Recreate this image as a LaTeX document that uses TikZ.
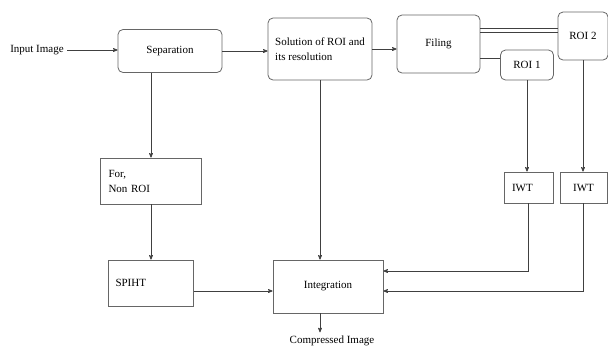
\documentclass[tikz,border=0pt]{standalone}
\usepackage{fontspec}
\setmainfont{Liberation Serif}
\usetikzlibrary{arrows}

\begin{document}
\begin{tikzpicture}[x=1pt,y=-1pt,->,>=stealth',line width=0.7pt,draw=black!75,
  font=\fontsize{11}{15}\selectfont,
  round box/.style={rectangle,rounded corners=5pt,draw=black!60,line width=0.8pt},
  plain box/.style={rectangle,draw=black!60,line width=0.8pt,align=left}]
  \useasboundingbox (0,0) rectangle (608,349);

  \node (input) at (37,50) {Input Image};
  \node[round box,minimum width=104pt,minimum height=43pt] (sep) at (170,51) {Separation};
  \node[round box,minimum width=104pt,minimum height=62pt,align=left] (sol) at (320,49) {Solution of ROI and\\its resolution};
  \node[round box,minimum width=83pt,minimum height=58pt] (fil) at (438.5,44) {Filing};
  \node[round box,minimum width=50pt,minimum height=48pt] (roitwo) at (583,36) {ROI 2};
  \node[round box,minimum width=53pt,minimum height=30pt] (roione) at (527,65) {ROI 1};

  \node[plain box,minimum height=46pt,text width=85pt,inner xsep=8pt] (nonroi) at (151,181) {For,\\Non ROI};
  \node[plain box,minimum height=46pt,text width=71pt,inner xsep=7pt] (spiht) at (151,283) {\raisebox{-4pt}{SPIHT}};
  \node[plain box,minimum width=110pt,minimum height=53pt] (integ) at (328,286.5) {Integration};
  \node[plain box,minimum height=31pt,text width=33pt,inner xsep=8pt] (iwtone) at (528.5,187.5) {IWT};
  \node[plain box,minimum width=47pt,minimum height=31pt] (iwttwo) at (583.5,187.5) {IWT};
  \node (comp) at (332,341) {Compressed Image};

  % top row
  \draw (input.east) -- (input.east -| sep.west);
  \draw (sep.east) -- (sep.east -| sol.west);
  \draw (sol.east) -- (sol.east -| fil.west);
  \foreach \s in {12,16}
    \draw[-] ([yshift=\s pt]fil.east) -- ([yshift=\s pt]fil.east -| roitwo.west);
  \draw[-] ([yshift=-14pt]fil.east) -- ([yshift=-14pt]fil.east -| roione.west);

  % down the left
  \draw (sep.south -| nonroi.north) -- (nonroi.north);
  \draw (nonroi) -- (spiht);
  \draw ([yshift=-8pt]spiht.east) -- ([yshift=-8pt]spiht.east -| integ.west);
  \draw (sol.south) -- (sol.south |- integ.north);

  % down the right
  \draw (roione.south) -- (roione.south |- iwtone.north);
  \draw (roitwo.south) -- (roitwo.south |- iwttwo.north);
  \draw (iwtone.south) |- ([yshift=15.5pt]integ.east);
  \draw (iwttwo.south) |- ([yshift=-4.5pt]integ.east);

  \draw (sol.south |- integ.south) -- (sol.south |- comp.north);
\end{tikzpicture}
\end{document}
